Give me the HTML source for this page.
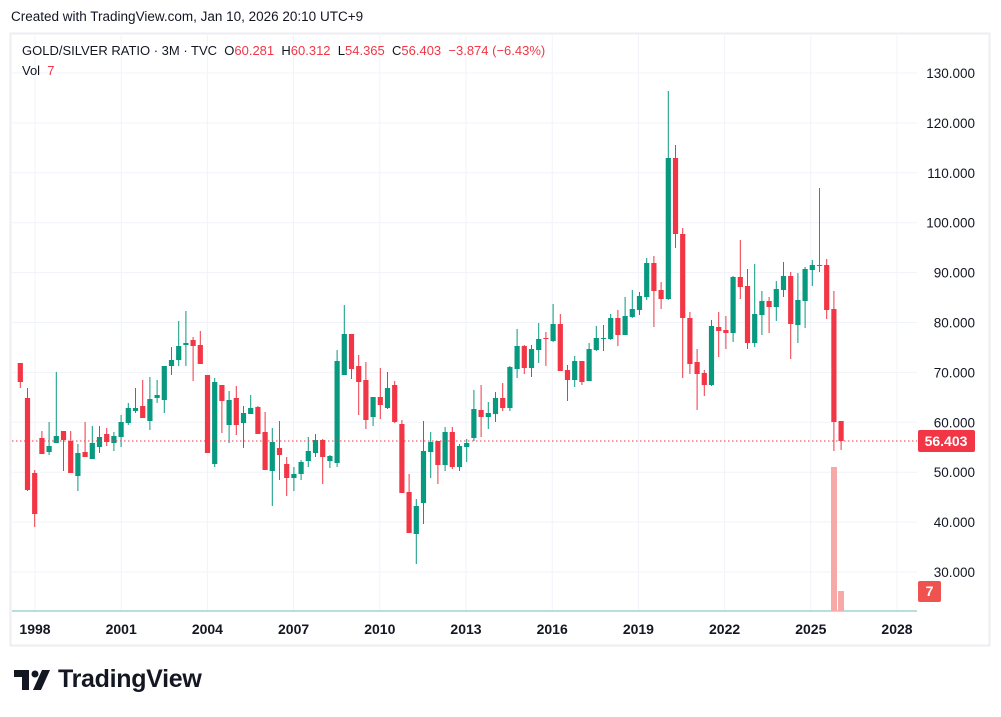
<!DOCTYPE html>
<html><head><meta charset="utf-8"><style>
body{margin:0;width:1001px;height:717px;background:#fff;font-family:"Liberation Sans",sans-serif;overflow:hidden;position:relative}
.t{position:absolute;white-space:nowrap}
</style></head><body>
<div class="t" style="left:11px;top:9px;font-size:13.5px;color:#131722">Created with TradingView.com, Jan 10, 2026 20:10 UTC+9</div>
<svg id="s" width="1001" height="717" style="position:absolute;left:0;top:0"></svg>
<div class="t" style="left:22px;top:43px;font-size:13px;color:#131722">GOLD/SILVER RATIO · 3M · TVC &nbsp;O<span style="color:#f23645">60.281</span> &nbsp;H<span style="color:#f23645">60.312</span> &nbsp;L<span style="color:#f23645">54.365</span> &nbsp;C<span style="color:#f23645">56.403</span> &nbsp;<span style="color:#f23645">−3.874 (−6.43%)</span></div>
<div class="t" style="left:22px;top:63px;font-size:13px;color:#131722">Vol &nbsp;<span style="color:#f23645">7</span></div>
<svg width="40" height="24" style="position:absolute;left:14px;top:670px"><path d="M0 0h15v20h-7v-13h-8z" fill="#131722"/><circle cx="21" cy="4" r="3.5" fill="#131722"/><path d="M28 0h8l-9 20h-8z" fill="#131722"/></svg>
<div class="t" style="left:58px;top:665px;font-size:25px;font-weight:bold;color:#131722;letter-spacing:-0.3px">TradingView</div>
<script>
var d=[[363,382,363,388,'r'],[398,490,388,491,'r'],[473,514,470,527,'r'],[438,454,431,454,'r'],[446,452,422,455,'g'],[436,443,372,443,'g'],[431,440,431,471,'r'],[441,473,431,473,'r'],[453,476,444,491,'g'],[452,457,422,457,'r'],[443,459,426,459,'g'],[437,447,426,453,'g'],[434,442,428,446,'r'],[436,443,432,451,'g'],[422,437,415,447,'g'],[408,423,403,425,'g'],[408,411,388,413,'g'],[406,418,380,418,'r'],[399,421,377,430,'g'],[395,398,380,403,'g'],[366,400,366,413,'g'],[360,366,347,375,'g'],[346,360,321,366,'g'],[343,345,311,366,'g'],[340,346,337,381,'r'],[345,364,331,364,'r'],[375,453,375,453,'r'],[382,464,378,467,'g'],[385,401,385,433,'r'],[400,425,391,443,'g'],[398,425,386,435,'r'],[413,423,406,448,'g'],[408,414,395,414,'g'],[407,434,406,434,'r'],[432,470,412,470,'r'],[442,471,428,506,'g'],[448,455,421,480,'r'],[464,478,457,496,'r'],[474,478,467,491,'g'],[462,474,460,480,'g'],[451,461,437,467,'g'],[440,453,434,457,'g'],[440,457,439,484,'r'],[456,461,455,468,'g'],[361,463,350,467,'g'],[334,375,305,375,'g'],[334,369,334,379,'r'],[366,382,355,415,'r'],[380,420,362,429,'r'],[397,417,397,426,'g'],[397,405,368,419,'r'],[388,408,372,409,'g'],[385,422,381,423,'r'],[424,493,420,493,'r'],[492,533,474,533,'r'],[506,534,499,564,'g'],[451,503,421,524,'g'],[442,452,432,478,'g'],[441,465,441,484,'r'],[432,465,427,471,'g'],[432,467,427,469,'r'],[446,467,444,471,'g'],[443,447,439,462,'g'],[409,438,390,441,'g'],[410,417,385,437,'r'],[413,417,402,429,'g'],[398,414,392,422,'g'],[398,408,383,411,'r'],[367,408,366,411,'g'],[346,369,329,378,'g'],[346,368,345,374,'r'],[349,368,345,377,'g'],[339,350,323,363,'g'],[338,339,332,366,'r'],[324,341,304,342,'g'],[324,371,314,371,'r'],[370,380,365,401,'r'],[361,380,356,387,'g'],[361,382,361,385,'r'],[349,381,343,381,'g'],[338,350,326,351,'g'],[338,339,325,351,'g'],[318,339,314,340,'g'],[318,335,310,346,'r'],[316,335,297,335,'g'],[309,317,290,318,'g'],[296,310,292,315,'g'],[263,297,258,300,'g'],[263,291,256,327,'r'],[290,299,282,309,'r'],[158,299,91,300,'g'],[158,234,145,248,'r'],[234,318,228,378,'r'],[318,364,312,374,'r'],[362,374,349,410,'r'],[373,385,370,396,'r'],[326,385,320,386,'g'],[327,331,312,357,'r'],[330,333,316,349,'r'],[277,333,276,342,'g'],[277,287,240,299,'r'],[286,343,269,349,'r'],[314,343,264,347,'g'],[301,315,291,335,'g'],[301,307,297,333,'r'],[289,307,281,321,'g'],[276,290,262,297,'g'],[276,324,272,359,'r'],[300,325,273,343,'g'],[269,301,267,328,'g'],[265,270,260,286,'g'],[265,266,188,272,'r'],[265,310,259,319,'r'],[309,422,291,451,'r'],[421,441,421,450,'r']];
var h='';
h+='<rect x="10.5" y="33.5" width="979" height="612" fill="none" stroke="#eceef2" stroke-width="2"/>';
for(var v=30;v<=130;v+=10){var y=73+(130-v)*4.99;h+='<line x1="12" x2="917" y1="'+y+'" y2="'+y+'" stroke="#f0f3fa"/>';h+='<text x="975" y="'+(y+5)+'" text-anchor="end" font-size="13.5" fill="#131722">'+v+'.000</text>';}
var yrs=['1998','2001','2004','2007','2010','2013','2016','2019','2022','2025','2028'];
for(var i=0;i<11;i++){var x=35+i*86.2;h+='<line x1="'+x+'" x2="'+x+'" y1="35" y2="612" stroke="#f0f3fa"/>';h+='<text x="'+x+'" y="634" text-anchor="middle" font-size="14" font-weight="bold" fill="#131722">'+yrs[i]+'</text>';}
h+='<line x1="12" x2="917" y1="611" y2="611" stroke="#9fd6cc" stroke-width="1.5"/>';
h+='<rect x="831" y="467" width="6" height="144" fill="#f7a9a7"/><rect x="838" y="591" width="6" height="20" fill="#f7a9a7"/>';
for(var i=0;i<d.length;i++){var c=d[i],x=20.3+7.2*i,col=c[4]=='g'?'#089981':'#f23645';
h+='<line x1="'+x+'" x2="'+x+'" y1="'+c[2]+'" y2="'+c[3]+'" stroke="'+col+'" stroke-width="1"/>';
h+='<rect x="'+(x-2.6)+'" y="'+c[0]+'" width="5.2" height="'+Math.max(1,c[1]-c[0])+'" fill="'+col+'"/>';}
h+='<line x1="12" x2="917" y1="441" y2="441" stroke="#f23645" stroke-dasharray="1.5 2.5"/>';
h+='<rect x="918" y="430" width="57" height="22" rx="2" fill="#f23645"/><text x="946" y="446" text-anchor="middle" font-size="14" font-weight="bold" fill="#fff">56.403</text>';
h+='<rect x="918" y="581" width="23" height="21" rx="2" fill="#ef5350"/><text x="929.5" y="596" text-anchor="middle" font-size="14" font-weight="bold" fill="#fff">7</text>';
document.getElementById('s').innerHTML=h;
</script>
</body></html>
